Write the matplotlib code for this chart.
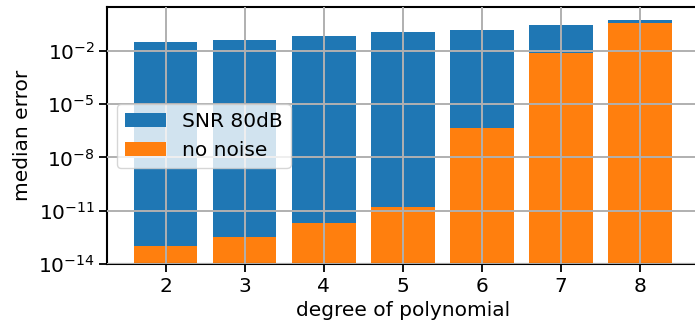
import matplotlib
matplotlib.use("Agg")
import matplotlib.pyplot as plt
import numpy as np

degrees = [2, 3, 4, 5, 6, 7, 8]
err_snr80 = [0.03, 0.042, 0.063, 0.107, 0.15, 0.27, 0.52]
err_nonoise = [1.0e-13, 3.5e-13, 2.2e-12, 1.6e-11, 4.7e-7, 7.4e-3, 0.34]

plt.rcParams['font.size'] = 14.5

fig = plt.figure(figsize=(6.95, 3.29), dpi=100)
ax = fig.add_axes([0.1544, 0.1967, 0.8507, 0.781])

ax.bar(degrees, err_snr80, width=0.8, color='#1f77b4', label='SNR 80dB')
ax.bar(degrees, err_nonoise, width=0.8, color='#ff7f0e', label='no noise')
ax.set_yscale('log')
ax.set_ylim(1e-14, 10 ** 0.43)
ax.set_xlim(1.26, 8.74)
ax.set_yticks([1e-14, 1e-11, 1e-8, 1e-5, 1e-2])
ax.minorticks_off()
ax.set_xticks(degrees)

ax.grid(True, color='#b0b0b0', linewidth=1.4)
ax.set_axisbelow(False)
for s in ax.spines.values():
    s.set_linewidth(1.5)
ax.tick_params(length=5.5, width=1.3)

ax.set_xlabel('degree of polynomial')
ax.set_ylabel('median error')
ax.legend(loc='center left', borderaxespad=0.5)

fig.savefig('out.png', dpi=100)
